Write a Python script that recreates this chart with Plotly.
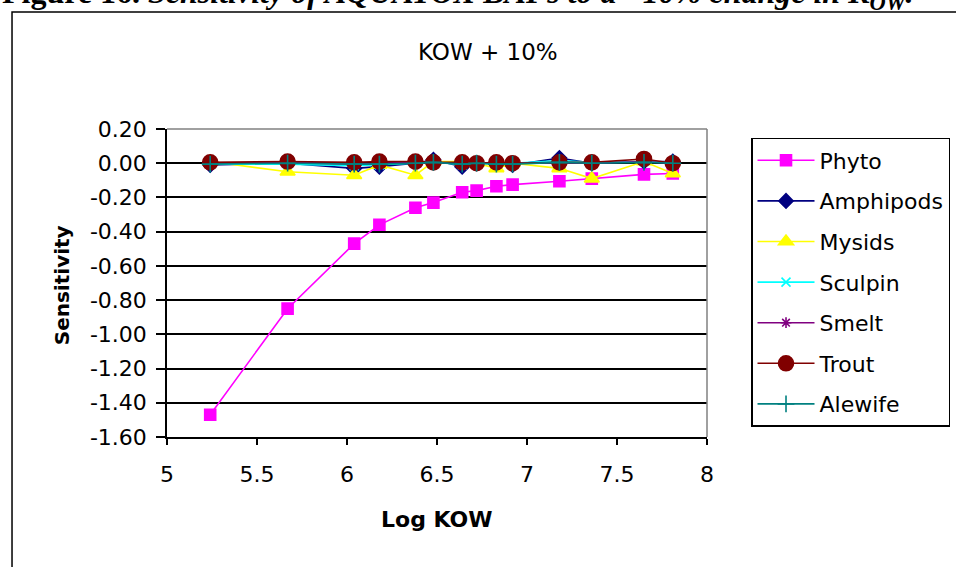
import plotly.graph_objects as go

# Log KOW of each congener and the BAF sensitivity of each food-web compartment
log_kow = [5.24, 5.67, 6.04, 6.18, 6.38, 6.48, 6.64, 6.72, 6.83, 6.92, 7.18, 7.36, 7.65, 7.81]

phyto = [-1.47, -0.85, -0.47, -0.36, -0.26, -0.23, -0.17, -0.16, -0.135, -0.125, -0.105, -0.09, -0.065, -0.06]
amphipods = [-0.01, 0.0, -0.03, -0.02, 0.0, 0.02, -0.02, 0.0, 0.0, -0.01, 0.03, 0.0, 0.01, 0.01]
mysids = [0.01, -0.05, -0.07, -0.01, -0.07, 0.01, 0.01, 0.0, -0.03, 0.0, -0.03, -0.09, 0.01, -0.06]
sculpin = [-0.005, -0.005, -0.015, -0.01, 0.0, 0.01, -0.01, 0.0, -0.005, 0.0, 0.015, 0.005, 0.01, 0.005]
smelt = [0.0, 0.005, -0.005, 0.0, 0.005, 0.0, 0.0, 0.0, 0.0, 0.0, 0.0, 0.0, 0.01, 0.0]
trout = [0.005, 0.01, 0.005, 0.01, 0.01, 0.005, 0.005, 0.0, 0.005, 0.0, 0.005, 0.005, 0.025, 0.0]
alewife = [-0.005, 0.0, -0.005, -0.005, 0.0, 0.005, -0.005, 0.0, -0.005, -0.005, 0.005, 0.0, 0.005, 0.0]

y_tickvals = [0.2, 0.0, -0.2, -0.4, -0.6, -0.8, -1.0, -1.2, -1.4, -1.6]
y_ticktext = ["0.20", "0.00", "-0.20", "-0.40", "-0.60", "-0.80", "-1.00", "-1.20", "-1.40", "-1.60"]
x_tickvals = [5, 5.5, 6, 6.5, 7, 7.5, 8]
x_ticktext = ["5", "5.5", "6", "6.5", "7", "7.5", "8"]

# name, values, colour, marker symbol, marker size
series = [
    ("Phyto", phyto, "#FF00FF", "square", 11),
    ("Amphipods", amphipods, "#000080", "diamond", 11),
    ("Mysids", mysids, "#FFFF00", "triangle-up", 13),
    ("Sculpin", sculpin, "#00FFFF", "x-thin-open", 9),
    ("Smelt", smelt, "#800080", "asterisk-open", 9),
    ("Trout", trout, "#800000", "circle", 15),
    ("Alewife", alewife, "#008080", "cross-thin-open", 12),
]

fig = go.Figure()
for rank, (name, vals, color, symbol, size) in enumerate(series):
    fig.add_trace(go.Scatter(
        x=log_kow, y=vals, name=name, mode="lines+markers",
        legendgroup=name, legendrank=rank + 1,
        line=dict(color=color, width=1.6),
        marker=dict(symbol=symbol, size=size, color=color,
                    line=dict(color=color, width=1.6)),
    ))

font = "DejaVu Sans, Verdana, sans-serif"

fig.update_layout(
    width=956, height=567,
    margin=dict(l=167, r=249, t=129, b=130, autoexpand=False),
    paper_bgcolor="white", plot_bgcolor="white",
    font=dict(family=font, size=20, color="black"),
    showlegend=True,
    legend=dict(
        x=1.0815, y=0.9708, xanchor="left", yanchor="top",
        bordercolor="black", borderwidth=1.5,
        font=dict(family=font, size=22, color="black"),
        traceorder="grouped", tracegroupgap=9,
        itemwidth=57,
    ),
    xaxis=dict(
        range=[5, 8], tickvals=x_tickvals, ticktext=x_ticktext,
        showgrid=False, zeroline=False,
        showline=True, linecolor="black", linewidth=1.5,
        ticks="outside", ticklen=6, tickcolor="black", tickwidth=1.5,
        tickfont=dict(family=font, size=22),
        ticklabelstandoff=11,
    ),
    yaxis=dict(
        range=[-1.6, 0.2], tickvals=y_tickvals, ticktext=y_ticktext,
        showgrid=True, gridcolor="black", gridwidth=1.5,
        zeroline=False,
        showline=True, linecolor="black", linewidth=1.5,
        ticks="outside", ticklen=9, tickcolor="black", tickwidth=1.5,
        tickfont=dict(family=font, size=22),
        ticklabelstandoff=5,
    ),
    shapes=[
        # outer chart frame (runs past the right edge of the page)
        dict(type="rect", xref="paper", yref="paper",
             x0=-0.2870, x1=1.5, y0=-0.60, y1=1.3799,
             line=dict(color="black", width=1.5), layer="below"),
        # grey plot-area border on the top and right
        dict(type="line", xref="paper", yref="paper", x0=0, x1=1, y0=1, y1=1,
             line=dict(color="#808080", width=1.5), layer="above"),
        dict(type="line", xref="paper", yref="paper", x0=1, x1=1, y0=0, y1=1,
             line=dict(color="#808080", width=1.5), layer="above"),
    ],
    annotations=[
        dict(text="KOW + 10%", x=0.594, y=1.25, xref="paper", yref="paper",
             xanchor="center", yanchor="middle",
             showarrow=False, font=dict(family=font, size=23)),
        dict(text="<b>Sensitivity</b>", x=-0.194, y=0.4935, xref="paper", yref="paper",
             xanchor="center", yanchor="middle",
             textangle=-90, showarrow=False, font=dict(family=font, size=20)),
        dict(text="<b>Log KOW</b>", x=0.50, y=-0.269, xref="paper", yref="paper",
             xanchor="center", yanchor="middle",
             showarrow=False, font=dict(family=font, size=22)),
        dict(text="<b>Figure 16.&nbsp;<i>Sensitivity of AQUATOX BAFs to a +10% change in K<sub>OW</sub>.</i></b>",
             x=-0.309, y=1.437, xref="paper", yref="paper",
             xanchor="left", yanchor="middle", showarrow=False,
             font=dict(family="Liberation Serif, Times New Roman, serif", size=32)),
    ],
)

fig.write_html("out.html")
